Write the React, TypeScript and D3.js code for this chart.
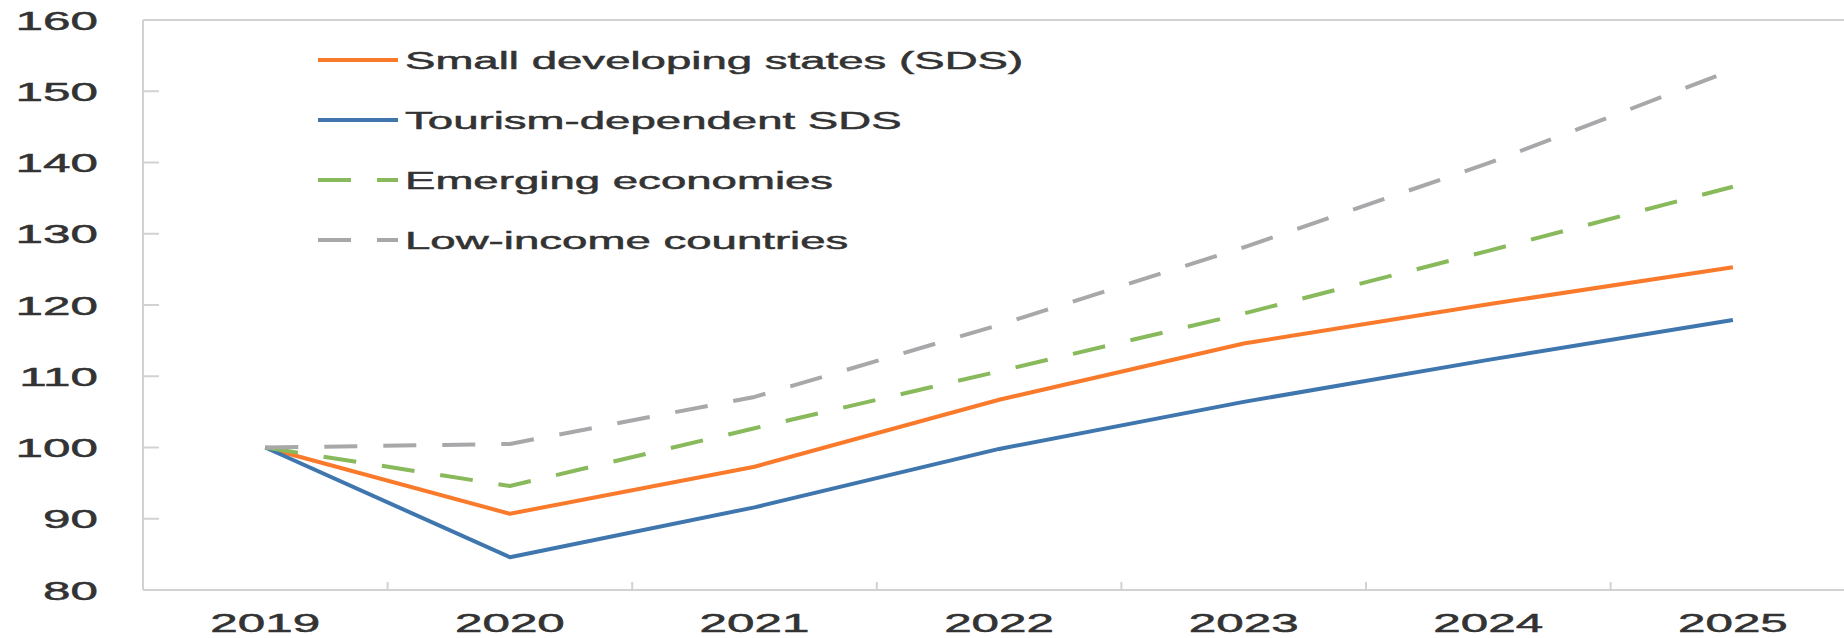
import React from "react";
import * as d3 from "d3";

const years = ["2019", "2020", "2021", "2022", "2023", "2024", "2025"];
const sdsValues = [100, 90.7, 97.3, 106.7, 114.6, 120.1, 125.3];
const tourismValues = [100, 84.6, 91.6, 99.8, 106.4, 112.3, 117.9];
const emergingValues = [100, 94.6, 102.7, 110.7, 118.8, 127.6, 136.6];
const lowIncomeValues = [100, 100.5, 107.1, 117.2, 128.1, 139.9, 153.0];
const yTicks = [80, 90, 100, 110, 120, 130, 140, 150, 160];
const seriesNames = [
  "Small developing states (SDS)",
  "Tourism-dependent SDS",
  "Emerging economies",
  "Low-income countries",
];

const W = 1844;
const H = 638;
const SX = 1.9; // horizontal text stretch of the reference

export default function App() {
  const left = 143;
  const band = 244.6;
  const top = 20;
  const bottom = 590;
  const x = d3.scaleBand<string>().domain(years).range([left, left + band * years.length]).padding(0);
  const y = d3.scaleLinear().domain([80, 160]).range([bottom, top]);
  const cx = (d: string) => (x(d) as number) + x.bandwidth() / 2;

  const series = [
    { name: seriesNames[0], values: sdsValues, color: "#FA7A2C", dash: null },
    { name: seriesNames[1], values: tourismValues, color: "#3F76AE", dash: null },
    { name: seriesNames[2], values: emergingValues, color: "#88B95B", dash: "33 26" },
    { name: seriesNames[3], values: lowIncomeValues, color: "#A8A8AB", dash: "33 26" },
  ];

  const line = d3
    .line<number>()
    .x((_, i) => cx(years[i]))
    .y((v) => y(v));

  const axisColor = "#D2D2D2";
  const textColor = "#333333";
  const font = "'Liberation Sans', Arial, sans-serif";
  const right = left + band * years.length;
  const textStroke = { stroke: textColor, strokeWidth: 0.5 };

  return (
    <svg
      width={W}
      height={H}
      style={{ position: "absolute", left: 0, top: 0, background: "#fff" }}
      fontFamily={font}
    >
      <rect x={0} y={0} width={W} height={H} fill="#fff" />
      {/* plot border */}
      <line x1={left} x2={right} y1={top} y2={top} stroke={axisColor} strokeWidth={2} />
      <line x1={left} x2={left} y1={top} y2={bottom} stroke={axisColor} strokeWidth={2} />
      <line x1={left} x2={right} y1={bottom} y2={bottom} stroke={axisColor} strokeWidth={2} />
      {/* y ticks */}
      {yTicks.map((t) => (
        <g key={t}>
          <line x1={left} x2={left + 16} y1={y(t)} y2={y(t)} stroke={axisColor} strokeWidth={2} />
          <text
            transform={`translate(98, ${y(t) + 9.5}) scale(${SX},1)`}
            textAnchor="end"
            fontSize={26}
            fill={textColor}
            {...textStroke}
          >
            {t}
          </text>
        </g>
      ))}
      {/* x ticks */}
      {years.slice(1).map((yr) => (
        <line
          key={yr}
          x1={x(yr) as number}
          x2={x(yr) as number}
          y1={bottom}
          y2={bottom - 8}
          stroke={axisColor}
          strokeWidth={2}
        />
      ))}
      {years.map((yr) => (
        <text
          key={yr}
          transform={`translate(${cx(yr)}, 632) scale(${SX},1)`}
          textAnchor="middle"
          fontSize={26}
          fill={textColor}
          {...textStroke}
        >
          {yr}
        </text>
      ))}
      {/* lines */}
      {series.map((s) => (
        <path
          key={s.name}
          d={line(s.values) as string}
          fill="none"
          stroke={s.color}
          strokeWidth={4}
          strokeDasharray={s.dash ?? undefined}
          strokeLinejoin="round"
        />
      ))}
      {/* legend */}
      {series.map((s, i) => {
        const ly = 60 + i * 60;
        return (
          <g key={s.name}>
            <line
              x1={318}
              x2={398}
              y1={ly}
              y2={ly}
              stroke={s.color}
              strokeWidth={4}
              strokeDasharray={s.dash ?? undefined}
            />
            <text
              transform={`translate(405, ${ly + 9}) scale(${SX},1)`}
              fontSize={24}
              fill={textColor}
              {...textStroke}
            >
              {s.name}
            </text>
          </g>
        );
      })}
    </svg>
  );
}
